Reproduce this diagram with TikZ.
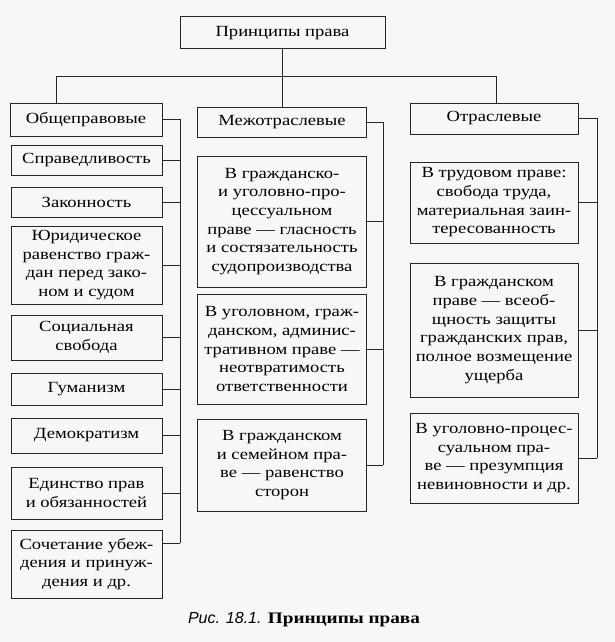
\documentclass[tikz,border=0pt]{standalone}
\usepackage{fontspec}
\setmainfont{Liberation Serif}[FakeStretch=1.2]
\setsansfont{Liberation Sans}
\begin{document}
\begin{tikzpicture}[x=1pt,y=-1pt]

\def\lx{86.5}
\def\mx{282}
\def\rx{494}
\def\lw{151pt}
\def\mw{169pt}
\def\rw{168pt}

\tikzset{box/.style = {draw=black!85, line width=1pt, rectangle, align=center, inner sep=0pt, font=\fontsize{15.5}{18.7}\selectfont}}
\tikzset{link/.style = {draw=black!85, line width=1pt}}

\fill[black!3] (0,0) rectangle (615,642);
\useasboundingbox (0,0) rectangle (615,642);

\node[box, minimum width=205pt, minimum height=32pt] (P) at (282.5,33) {Принципы права};

\node[box, minimum width=152pt, minimum height=33pt] (P1) at (86,119.5) {Общеправовые};
\node[box, minimum width=\mw, minimum height=30pt] (P2) at (\mx,122) {Межотраслевые};
\node[box, minimum width=\rw, minimum height=31pt] (P3) at (\rx,118.5) {Отраслевые};

\node[box, minimum width=\lw, minimum height=30pt] (P11) at (\lx,160) {Справедливость};
\node[box, minimum width=\lw, minimum height=30pt] (P12) at (\lx,202) {Законность};
\node[box, minimum width=\lw, minimum height=78pt] (P13) at (\lx,265) {Юридическое\\равенство граж-\\дан перед зако-\\ном и судом};
\node[box, minimum width=\lw, minimum height=45pt] (P14) at (\lx,337.5) {Социальная\\свобода};
\node[box, minimum width=\lw, minimum height=32pt] (P15) at (\lx,389) {Гуманизм};
\node[box, minimum width=\lw, minimum height=35pt] (P16) at (\lx,435.5) {Демократизм};
\node[box, minimum width=\lw, minimum height=52pt] (P17) at (\lx,493) {Единство прав\\и обязанностей};
\node[box, minimum width=\lw, minimum height=68pt] (P18) at (\lx,564) {Сочетание убеж-\\дения и принуж-\\дения и др.};

\node[box, minimum width=\mw, minimum height=131pt] (P21) at (\mx,221.5) {В гражданско-\\и уголовно-про-\\цессуальном\\праве — гласность\\и состязательность\\судопроизводства};
\node[box, minimum width=\mw, minimum height=110pt] (P22) at (\mx,349) {В уголовном, граж-\\данском, админис-\\тративном праве —\\неотвратимость\\ответственности};
\node[box, minimum width=\mw, minimum height=92pt] (P23) at (\mx,465) {В гражданском\\и семейном пра-\\ве — равенство\\сторон};

\node[box, minimum width=\rw, minimum height=81pt] (P31) at (\rx,202.5) {В трудовом праве:\\свобода труда,\\материальная заин-\\тересованность};
\node[box, minimum width=\rw, minimum height=134pt] (P32) at (\rx,330) {В гражданском\\праве — всеоб-\\щность защиты\\гражданских прав,\\полное возмещение\\ущерба};
\node[box, minimum width=\rw, minimum height=90pt] (P33) at (\rx,458) {В уголовно-процес-\\суальном пра-\\ве — презумпция\\невиновности и др.};

\node[font=\fontsize{16}{19}\selectfont] (cap) at (304,620) {{\sffamily\itshape Рис. 18.1.} \textbf{Принципы права}};

% top level
\coordinate (B1) at (56,76);
\coordinate (B3) at (496,76);
\draw[link] (P.south) -- (P.south |- P2.north);
\draw[link] (B1 |- P1.north) -- (B1) -- (B3) -- (B3 |- P3.north);

% spines
\coordinate (L) at (180,115);
\coordinate (M) at (383,126);
\coordinate (R) at (597,113);

\draw[link] (P1.east) -| ([yshift=21pt]P18.east -| L);
\foreach \i in {1,...,7}
  \draw[link] (P1\i.east) -- (P1\i.east -| L);
\draw[link] ([yshift=21pt]P18.east) -- ([yshift=21pt]P18.east -| L);

\draw[link] (P2.east) -| (P23.east -| M);
\foreach \i in {1,2,3}
  \draw[link] (P2\i.east) -- (P2\i.east -| M);

\draw[link] (P3.east) -| (P33.east -| R);
\foreach \i in {1,2,3}
  \draw[link] (P3\i.east) -- (P3\i.east -| R);

\end{tikzpicture}
\end{document}
